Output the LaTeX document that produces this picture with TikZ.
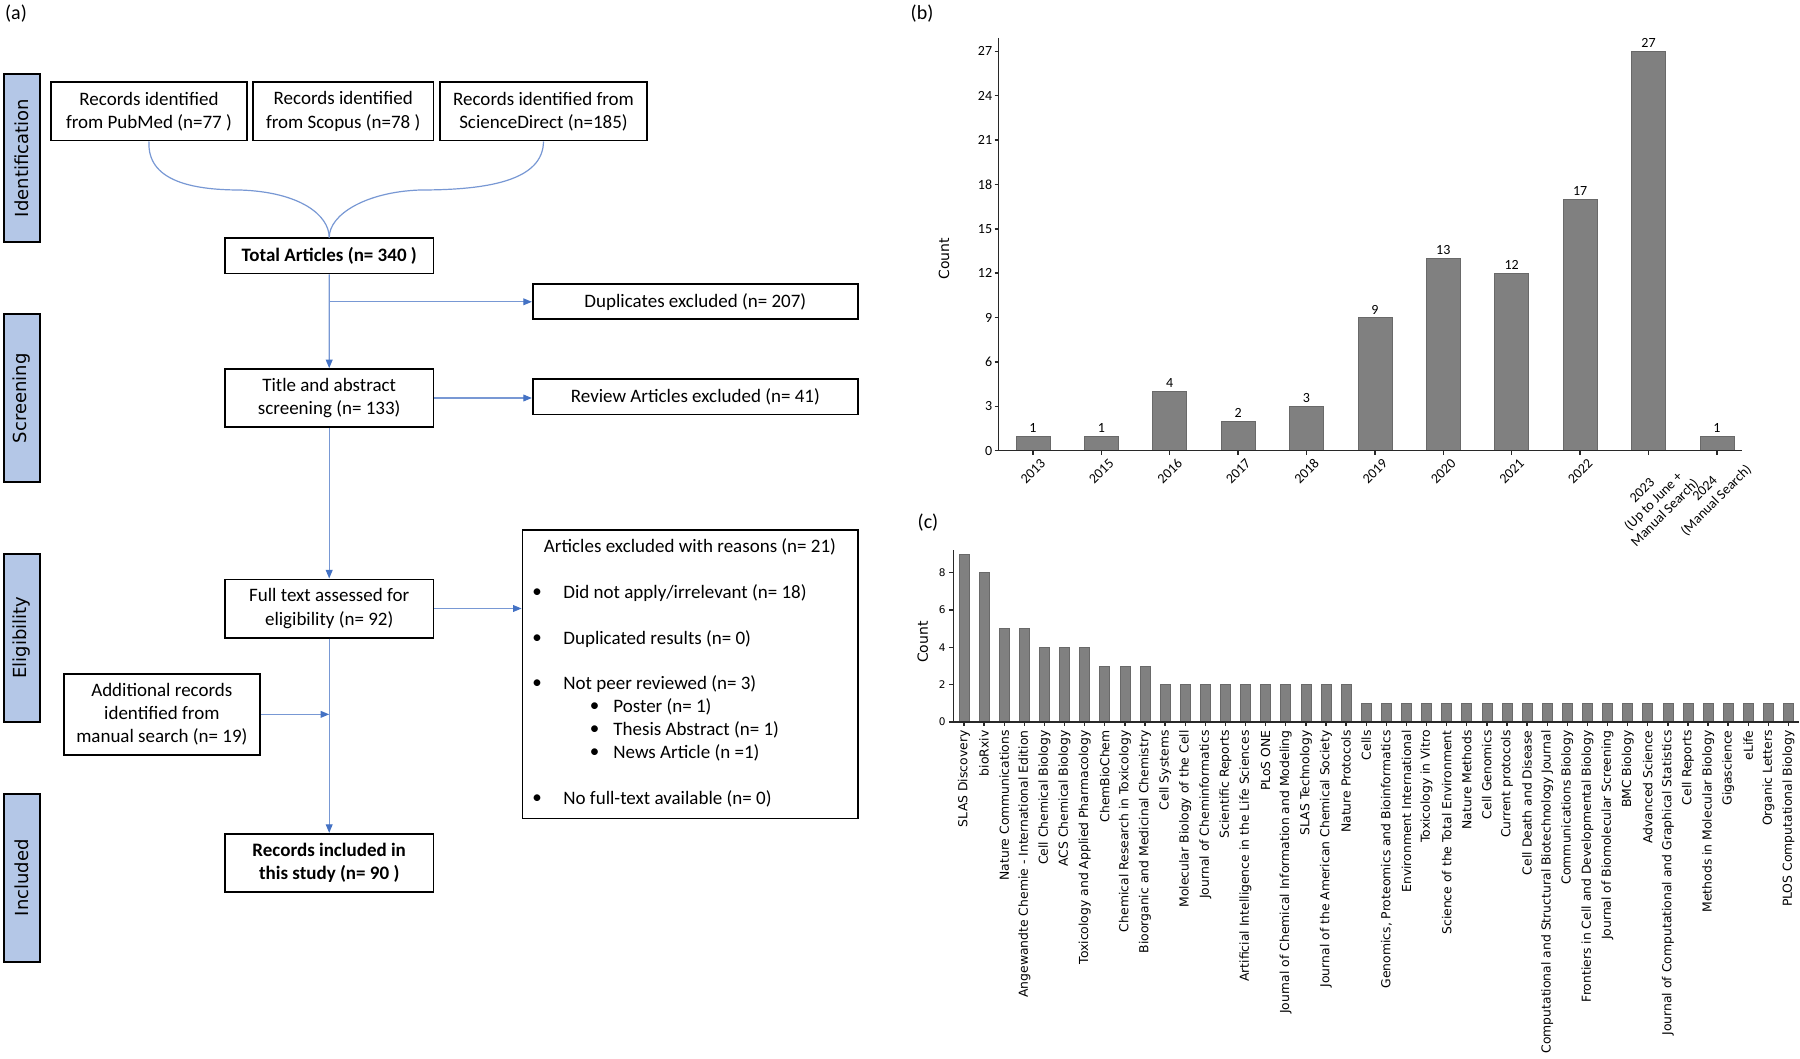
\documentclass[tikz,border=0pt]{standalone}
\usepackage{fontspec}
\setmainfont{Carlito}
\newfontfamily\dejavu{DejaVu Sans}
\usetikzlibrary{arrows.meta}
\definecolor{bandblue}{RGB}{180,199,231}
\definecolor{flowline}{RGB}{120,152,212}
\definecolor{tipblue}{RGB}{68,114,196}
\definecolor{bargray}{RGB}{128,128,128}
\definecolor{baredge}{RGB}{105,105,105}
\definecolor{axisgray}{RGB}{40,40,40}
\begin{document}
\begin{tikzpicture}[x=0.5pt,y=-0.5pt,
  box/.style={draw=black, line width=0.8pt, align=center, inner sep=0pt, font=\fontsize{9.5}{11.6}\selectfont},
  txt/.style={inner sep=0pt, font=\fontsize{9.5}{11.6}\selectfont},
  band/.style={draw=black, fill=bandblue, line width=1pt, inner sep=0pt, minimum width=84pt, minimum height=18.3pt, rotate=90, font=\dejavu\fontsize{9}{11}\selectfont},
  conn/.style={draw=flowline, line width=0.6pt, -{Triangle[length=4.3pt,width=3.4pt,color=tipblue]}},
  curve/.style={draw=flowline, line width=0.6pt},
  panel/.style={inner sep=0pt, font=\fontsize{10}{12}\selectfont},
  axis/.style={draw=axisgray, line width=0.7pt},
  bar/.style={fill=bargray, draw=baredge, line width=0.3pt},
  valfont/.style={inner sep=0pt, font=\fontsize{7}{8}\selectfont},
  yearfont/.style={inner sep=0pt, rotate=45, align=center, font=\fontsize{7}{8}\selectfont},
  countfont/.style={inner sep=0pt, rotate=90, font=\dejavu\fontsize{7}{8}\selectfont},
  ctick/.style={inner sep=0pt, font=\dejavu\fontsize{5.25}{6}\selectfont},
  jfont/.style={inner sep=0pt, rotate=90, anchor=east, font=\dejavu\fontsize{6.2}{7}\selectfont}
]
\fill[white] (0,0) rectangle (1800,1059);
\useasboundingbox (0,0) rectangle (1800,1059);

% ---------------- panel (a) ----------------
\node[panel] (la) at (16,14) {(a)};
\node[band] (bid) at (22,158.2) {Identification};
\node[band] (bsc) at (22,398.2) {Screening};
\node[band] (bel) at (22,637.5) {Eligibility};
\node[band] (bin) at (22,877.7) {Included};

\node[box, minimum width=98pt, minimum height=29.2pt] (pub) at (149,111.5) {Records identified\\from PubMed (n=77 )};
\node[box, minimum width=90.25pt, minimum height=29.2pt] (scop) at (343.25,111.5) {Records identified\\from Scopus (n=78 )};
\node[box, minimum width=103.5pt, minimum height=29.2pt] (sci) at (543.5,111.5) {Records identified from\\ScienceDirect (n=185)};
\node[box, minimum width=104.25pt, minimum height=17.7pt, font=\bfseries\fontsize{9.5}{11.6}\selectfont] (total) at (329.25,256) {Total Articles (n= 340 )};
\node[box, minimum width=162.65pt, minimum height=17.5pt] (dup) at (695.35,301.8) {Duplicates excluded (n= 207)};
\node[box, minimum width=104.2pt, minimum height=29pt] (title) at (329.2,398) {Title and abstract\\screening (n= 133)};
\node[box, minimum width=162.65pt, minimum height=17.5pt] (rev) at (695.35,396.8) {Review Articles excluded (n= 41)};
\node[box, minimum width=104.2pt, minimum height=29.2pt] (full) at (329.2,608.5) {Full text assessed for\\eligibility (n= 92)};
\node[box, minimum width=167.8pt, minimum height=144.3pt] (excl) at (690.2,674) {};
\node[box, minimum width=98.15pt, minimum height=40.35pt] (add) at (161.85,714.35) {Additional records\\identified from\\manual search (n= 19)};
\node[box, minimum width=104.2pt, minimum height=29pt, font=\bfseries\fontsize{9.5}{11.6}\selectfont] (incl) at (329.2,862.7) {Records included in\\this study (n= 90 )};

% text inside exclusion box
\node[txt] (xt) at (690,547.3) {Articles excluded with reasons (n= 21)};
\node[txt] (xb1) at (537,593.3) {•};
\node[txt, anchor=west] (xt1) at (563,593.3) {Did not apply/irrelevant (n= 18)};
\node[txt] (xb2) at (537,639) {•};
\node[txt, anchor=west] (xt2) at (563,639) {Duplicated results (n= 0)};
\node[txt] (xb3) at (537,684.3) {•};
\node[txt, anchor=west] (xt3) at (563,684.3) {Not peer reviewed (n= 3)};
\node[txt] (xs1) at (594.7,707.3) {•};
\node[txt, anchor=west] (xu1) at (613,707.3) {Poster (n= 1)};
\node[txt] (xs2) at (594.7,730) {•};
\node[txt, anchor=west] (xu2) at (613,730) {Thesis Abstract (n= 1)};
\node[txt] (xs3) at (594.7,752.7) {•};
\node[txt, anchor=west] (xu3) at (613,752.7) {News Article (n =1)};
\node[txt] (xb4) at (537,799) {•};
\node[txt, anchor=west] (xt4) at (563,799) {No full-text available (n= 0)};

% connectors
\draw[curve] (pub.south) .. controls (147,180) and (190,190) .. (240,190) .. controls (300,192) and (329,215) .. (total.north);
\draw[curve] (sci.south) .. controls (543,180) and (490,190) .. (420,190) .. controls (365,192) and (329,215) .. (total.north);
\draw[conn] (total.south) -- (title.north);
\coordinate (j1) at (total.south |- dup.west);
\draw[conn] (j1) -- (dup.west);
\draw[conn] (title.east) -- (title.east -| rev.west);
\draw[conn] (title.south) -- (full.north);
\draw[conn] (full.east) -- (full.east -| excl.west);
\draw[conn] (full.south) -- (incl.north);
\draw[conn] (add.east) -- (add.east -| full.south);

% ---------------- panel (b) ----------------
\node[panel] (lb) at (922,13.5) {(b)};
\foreach \v [count=\i from 0] in {1,1,4,2,3,9,13,12,17,27,1} {
  \pgfmathsetmacro\xc{1032.9+68.4*\i}
  \pgfmathsetmacro\yt{450.6-14.785*\v}
  \draw[bar] (\xc-17,450.6) rectangle (\xc+17,\yt);
  \node[valfont] at (\xc,\yt-8) {\v};
  \draw[axis] (\xc,450.6) -- (\xc,454.6);
}
\draw[axis] (998.7,37.9) -- (998.7,450.6) -- (1742,450.6);
\foreach \t in {0,3,...,27} {
  \pgfmathsetmacro\yt{450.6-14.785*\t}
  \draw[axis] (994.7,\yt) -- (998.7,\yt);
  \node[valfont, anchor=east] at (992.5,\yt) {\t};
}
\node[countfont] (cb) at (944,258.6) {Count};
\foreach \yr [count=\i from 0] in {2013,2015,2016,2017,2018,2019,2020,2021,2022} {
  \node[yearfont] at ({1032.9+68.4*\i},471) {\yr};
}
\node[yearfont] (y23) at (1654,502) {2023\\(Up to June +\\Manual Search)};
\node[yearfont] (y24) at (1711,495) {2024\\(Manual Search)};

% ---------------- panel (c) ----------------
\node[panel] (lc) at (928,523) {(c)};
\foreach \name/\v [count=\i from 0] in {
 SLAS Discovery/9, bioRxiv/8, Nature Communications/5,
 Angewandte Chemie - International Edition/5, Cell Chemical Biology/4,
 ACS Chemical Biology/4, Toxicology and Applied Pharmacology/4, ChemBioChem/3,
 Chemical Research in Toxicology/3, Bioorganic and Medicinal Chemistry/3,
 Cell Systems/2, Molecular Biology of the Cell/2, Journal of Cheminformatics/2,
 Scientific Reports/2, Artificial Intelligence in the Life Sciences/2, PLoS ONE/2,
 Journal of Chemical Information and Modeling/2, SLAS Technology/2,
 Journal of the American Chemical Society/2, Nature Protocols/2, Cells/1,
 {Genomics, Proteomics and Bioinformatics}/1, Environment International/1,
 Toxicology in Vitro/1, Science of the Total Environment/1, Nature Methods/1,
 Cell Genomics/1, Current protocols/1, Cell Death and Disease/1,
 Computational and Structural Biotechnology Journal/1, Communications Biology/1,
 Frontiers in Cell and Developmental Biology/1, Journal of Biomolecular Screening/1,
 BMC Biology/1, Advanced Science/1, Journal of Computational and Graphical Statistics/1,
 Cell Reports/1, Methods in Molecular Biology/1, Gigascience/1, eLife/1,
 Organic Letters/1, PLOS Computational Biology/1} {
  \pgfmathsetmacro\xc{964+20.11*\i}
  \pgfmathsetmacro\yt{722-18.66*\v}
  \draw[bar] (\xc-5,722) rectangle (\xc+5,\yt);
  \draw[axis] (\xc,722) -- (\xc,726);
  \node[jfont] at (\xc,730) {\name};
}
\draw[axis] (953.4,550) -- (953.4,722) -- (1799,722);
\foreach \t in {0,2,...,8} {
  \pgfmathsetmacro\yt{722-18.66*\t}
  \draw[axis] (949.4,\yt) -- (953.4,\yt);
  \node[ctick, anchor=east] at (946,\yt) {\t};
}
\node[countfont] (cc) at (922.7,642) {Count};
\end{tikzpicture}
\end{document}
